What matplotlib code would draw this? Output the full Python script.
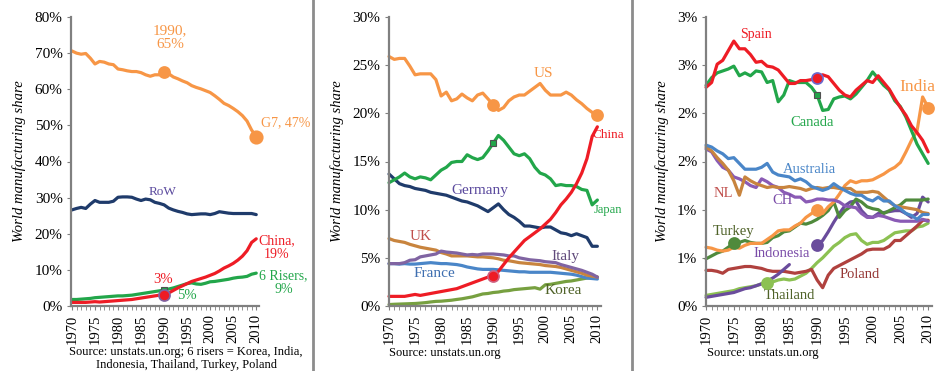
import numpy as np
import matplotlib
matplotlib.use("Agg")
import matplotlib.pyplot as plt
from matplotlib.lines import Line2D

plt.rcParams['font.family'] = ['Liberation Serif', 'DejaVu Serif']

years = np.arange(1970, 2011)
xtick_years = [1970, 1975, 1980, 1985, 1990, 1995, 2000, 2005, 2010]

# ---- panel 1: blocs (% of world manufacturing) ----
g7 = [70.6, 70.0, 69.7, 69.9, 68.6, 67.0, 67.7, 67.5, 67.0, 66.8,
      65.6, 65.4, 65.1, 64.9, 64.9, 64.6, 64.0, 63.6, 64.0, 64.0,
      64.7, 64.3, 63.4, 62.9, 62.3, 61.8, 61.0, 60.5, 60.1, 59.6,
      59.1, 58.2, 57.2, 56.1, 55.5, 54.7, 53.8, 52.7, 51.2, 48.7, 46.9]
row = [26.6, 27.0, 27.3, 27.0, 28.2, 29.2, 28.7, 28.7, 28.7, 29.0,
       30.1, 30.2, 30.2, 30.1, 29.6, 29.2, 29.6, 29.4, 28.7, 28.4,
       28.0, 27.1, 26.6, 26.2, 25.9, 25.5, 25.3, 25.4, 25.5, 25.5,
       25.3, 25.6, 26.1, 25.9, 25.7, 25.6, 25.6, 25.6, 25.6, 25.6, 25.3]
china = [1.0, 1.0, 1.0, 1.0, 1.1, 1.2, 1.1, 1.2, 1.3, 1.4,
         1.5, 1.6, 1.7, 1.8, 2.0, 2.2, 2.4, 2.6, 2.8, 3.0,
         3.1, 3.6, 4.3, 5.0, 5.6, 6.2, 6.8, 7.2, 7.6, 8.0,
         8.5, 9.0, 9.7, 10.5, 11.1, 11.8, 12.7, 13.8, 15.3, 17.6, 18.6]
risers = [1.8, 1.8, 1.9, 2.0, 2.1, 2.3, 2.4, 2.5, 2.6, 2.7,
          2.8, 2.8, 2.9, 3.0, 3.2, 3.4, 3.6, 3.8, 4.0, 4.2,
          4.4, 4.7, 5.0, 5.4, 5.8, 6.2, 6.4, 6.1, 6.0, 6.3,
          6.7, 6.8, 7.0, 7.2, 7.4, 7.7, 7.9, 8.0, 8.2, 8.8, 9.1]

# ---- panel 2: big countries ----
us = [25.9, 25.6, 25.7, 25.7, 24.9, 24.0, 24.1, 24.1, 24.1, 23.5,
      21.8, 22.2, 21.3, 21.5, 22.0, 21.6, 21.3, 21.9, 22.1, 21.5,
      20.9, 20.3, 20.6, 21.3, 21.7, 21.9, 21.9, 22.3, 22.7, 23.1,
      22.4, 21.9, 21.9, 21.9, 22.2, 21.9, 21.4, 21.0, 20.5, 20.1, 19.8]
japan = [12.8, 13.1, 13.4, 13.8, 13.4, 13.2, 13.4, 13.3, 13.1, 13.6,
         14.1, 14.4, 14.9, 15.0, 15.0, 15.7, 15.4, 15.2, 15.4, 16.1,
         16.9, 17.7, 17.2, 16.5, 15.8, 15.6, 15.8, 15.3, 14.4, 13.8,
         13.6, 13.2, 12.5, 12.6, 12.5, 12.5, 12.4, 12.1, 12.0, 10.5, 11.0]
germany = [13.7, 13.2, 12.7, 12.5, 12.4, 12.2, 12.1, 12.0, 11.8, 11.7,
           11.6, 11.5, 11.3, 11.1, 10.9, 10.8, 10.6, 10.4, 10.1, 9.8,
           10.2, 10.6, 10.0, 9.5, 9.2, 8.8, 8.3, 8.3, 8.2, 8.1,
           8.2, 8.2, 7.9, 7.6, 7.5, 7.3, 7.5, 7.3, 7.1, 6.2, 6.2]
uk = [7.0, 6.8, 6.7, 6.6, 6.4, 6.25, 6.1, 6.0, 5.9, 5.8,
      5.55, 5.4, 5.2, 5.2, 5.2, 5.2, 5.15, 5.1, 5.1, 5.05,
      5.0, 4.9, 4.75, 4.7, 4.6, 4.5, 4.45, 4.4, 4.35, 4.3,
      4.2, 4.15, 4.1, 4.0, 3.85, 3.7, 3.55, 3.4, 3.2, 3.1, 3.0]
italy = [4.4, 4.4, 4.4, 4.5, 4.75, 4.8, 5.1, 5.2, 5.3, 5.4,
         5.7, 5.6, 5.55, 5.5, 5.4, 5.3, 5.35, 5.3, 5.4, 5.4,
         5.4, 5.35, 5.3, 5.2, 5.2, 5.0, 4.9, 4.8, 4.75, 4.7,
         4.6, 4.55, 4.5, 4.3, 4.15, 4.0, 3.85, 3.7, 3.5, 3.3, 3.0]
france = [4.4, 4.4, 4.35, 4.4, 4.35, 4.35, 4.4, 4.45, 4.5, 4.45,
          4.4, 4.4, 4.35, 4.3, 4.2, 4.05, 3.95, 3.85, 3.8, 3.8,
          3.8, 3.75, 3.7, 3.65, 3.6, 3.55, 3.55, 3.5, 3.5, 3.5,
          3.5, 3.5, 3.45, 3.4, 3.35, 3.3, 3.2, 3.05, 2.9, 2.85, 2.8]
korea = [0.15, 0.18, 0.2, 0.22, 0.24, 0.26, 0.3, 0.35, 0.42, 0.48,
         0.5, 0.55, 0.6, 0.68, 0.75, 0.85, 0.95, 1.1, 1.25, 1.3,
         1.4, 1.45, 1.55, 1.6, 1.7, 1.75, 1.8, 1.85, 1.9, 1.75,
         2.2, 2.25, 2.35, 2.45, 2.55, 2.6, 2.7, 2.8, 2.9, 2.95, 3.0]

# ---- panel 3: smaller countries ----
spain = [2.27, 2.32, 2.51, 2.55, 2.65, 2.75, 2.67, 2.67, 2.61, 2.53,
         2.54, 2.49, 2.48, 2.45, 2.38, 2.31, 2.31, 2.34, 2.34, 2.35,
         2.37, 2.40, 2.38, 2.31, 2.24, 2.19, 2.17, 2.24, 2.29, 2.34,
         2.32, 2.39, 2.32, 2.25, 2.15, 2.06, 1.98, 1.87, 1.80, 1.72, 1.60]
canada = [2.29, 2.37, 2.42, 2.44, 2.46, 2.49, 2.39, 2.42, 2.39, 2.44,
          2.43, 2.32, 2.34, 2.12, 2.19, 2.34, 2.32, 2.32, 2.32, 2.27,
          2.19, 2.03, 2.04, 2.15, 2.17, 2.18, 2.15, 2.20, 2.27, 2.34,
          2.43, 2.36, 2.29, 2.24, 2.13, 2.07, 1.96, 1.82, 1.68, 1.58, 1.48]
australia = [1.67, 1.65, 1.61, 1.58, 1.53, 1.54, 1.48, 1.42, 1.42, 1.42,
             1.44, 1.48, 1.39, 1.36, 1.35, 1.34, 1.30, 1.32, 1.29, 1.24,
             1.22, 1.20, 1.22, 1.27, 1.23, 1.20, 1.17, 1.15, 1.15, 1.11,
             1.09, 1.13, 1.09, 1.09, 1.04, 1.01, 0.96, 0.94, 0.90, 0.95, 0.95]
nl = [1.65, 1.61, 1.54, 1.48, 1.41, 1.30, 1.15, 1.34, 1.30, 1.27,
      1.25, 1.23, 1.24, 1.23, 1.23, 1.24, 1.23, 1.22, 1.20, 1.22,
      1.23, 1.22, 1.23, 1.23, 1.22, 1.22, 1.22, 1.18, 1.18, 1.18,
      1.19, 1.18, 1.13, 1.08, 1.04, 1.03, 1.02, 1.01, 1.00, 0.97, 0.96]
ch = [1.63, 1.60, 1.51, 1.44, 1.41, 1.34, 1.32, 1.29, 1.25, 1.23,
      1.32, 1.29, 1.25, 1.23, 1.18, 1.16, 1.13, 1.13, 1.08, 1.09,
      1.11, 1.11, 1.10, 1.10, 1.08, 1.04, 1.03, 1.02, 0.96, 0.92,
      0.92, 0.94, 0.93, 0.91, 0.89, 0.88, 0.88, 0.88, 0.88, 0.90, 0.88]
india = [0.61, 0.60, 0.58, 0.57, 0.58, 0.61, 0.60, 0.63, 0.65, 0.65,
         0.65, 0.69, 0.73, 0.78, 0.79, 0.79, 0.83, 0.86, 0.92, 0.96,
         1.00, 0.96, 1.03, 1.08, 1.16, 1.25, 1.30, 1.28, 1.30, 1.30,
         1.31, 1.34, 1.37, 1.41, 1.44, 1.49, 1.60, 1.72, 1.82, 2.17, 2.06]
turkey = [0.49, 0.52, 0.55, 0.57, 0.61, 0.65, 0.66, 0.68, 0.66, 0.65,
          0.65, 0.66, 0.71, 0.73, 0.77, 0.78, 0.82, 0.86, 0.85, 0.87,
          0.90, 0.94, 0.99, 1.08, 0.92, 0.99, 1.03, 1.11, 1.08, 1.03,
          1.01, 1.00, 0.96, 0.99, 1.02, 1.05, 1.10, 1.10, 1.10, 1.10, 1.11]
indonesia = [0.09, 0.10, 0.11, 0.12, 0.13, 0.14, 0.16, 0.18, 0.19, 0.21,
             0.23, 0.26, 0.29, 0.33, 0.38, 0.43, np.nan, np.nan, np.nan, np.nan,
             0.63, 0.68, 0.77, 0.87, 0.96, 1.04, 1.08, 1.09, 0.99, 0.93,
             0.92, 0.96, 0.97, 0.98, 0.99, 0.99, 0.96, 0.92, 0.96, 1.13, 1.08]
poland = [0.37, 0.37, 0.36, 0.34, 0.38, 0.39, 0.40, 0.41, 0.41, 0.40,
          0.39, 0.37, 0.36, 0.36, 0.36, 0.35, 0.34, 0.35, 0.36, 0.38,
          0.27, 0.19, 0.32, 0.39, 0.42, 0.45, 0.48, 0.51, 0.54, 0.58,
          0.59, 0.59, 0.59, 0.62, 0.68, 0.68, 0.73, 0.78, 0.83, 0.89, 0.89]
thailand = [0.11, 0.12, 0.13, 0.14, 0.15, 0.16, 0.18, 0.19, 0.20, 0.21,
            0.23, 0.24, 0.25, 0.27, 0.28, 0.27, 0.28, 0.31, 0.34, 0.39,
            0.45, 0.50, 0.56, 0.62, 0.66, 0.71, 0.74, 0.75, 0.68, 0.64,
            0.66, 0.66, 0.68, 0.72, 0.76, 0.77, 0.78, 0.78, 0.82, 0.83, 0.86]

p3_ticks = [0, 0.5, 1.0, 1.5, 2.0, 2.5, 3.0]
p3_ticklabels = ['0%', '1%', '1%', '2%', '2%', '3%', '3%']

ORANGE = '#f79646'
NAVY = '#1f3b6b'
RED = '#ee1c25'
GREEN = '#22a64a'
PURPLE = '#8064a2'
BLUE = '#4a86c8'
BROWN = '#c8843e'
OLIVE = '#77a040'
DKGREEN = '#4f8a3c'
LTGREEN = '#8cc152'
SPINE = '#808080'

fig = plt.figure(figsize=(9.44, 3.71), dpi=100)
W, H = 944.0, 371.0


def make_ax(left_px, width_px, xlim, ylim):
    ax = fig.add_axes([left_px / W, (H - 306) / H, width_px / W, 289 / H])
    ax.set_xlim(*xlim)
    ax.set_ylim(*ylim)
    for s in ['top', 'right']:
        ax.spines[s].set_visible(False)
    for s in ['left', 'bottom']:
        ax.spines[s].set_color(SPINE)
        ax.spines[s].set_linewidth(1.6)
    ax.set_xticks(xtick_years)
    ax.set_xticks(years, minor=True)
    ax.set_xticklabels([str(y) for y in xtick_years], rotation=90, fontsize=10.5)
    ax.tick_params(axis='x', which='both', direction='out', length=3,
                   color=SPINE, pad=3)
    ax.tick_params(axis='y', direction='out', length=3, color=SPINE,
                   labelsize=11, pad=3)
    ax.set_ylabel('World manufacturing share', fontstyle='italic',
                  fontsize=10.5, labelpad=6)
    return ax


def line(ax, y, color):
    ax.plot(years, y, color=color, lw=2.3, solid_capstyle='round',
            solid_joinstyle='round', clip_on=False)


def dot(ax, x, y, color, edge=None, ms=8):
    ax.plot([x], [y], 'o', color=color, ms=ms,
            mec=edge if edge else color, mew=1.2, clip_on=False, zorder=5)


def square(ax, x, y, color=GREEN):
    ax.plot([x], [y], 's', color=color, ms=5, mec='#505050', mew=0.8,
            clip_on=False, zorder=5)


# ---------------- panel 1 ----------------
ax1 = make_ax(71, 188, (1969.8, 2010.6), (0, 80))
ax1.set_yticks(np.arange(0, 81, 10))
ax1.set_yticklabels(['%d%%' % v for v in range(0, 81, 10)])
line(ax1, g7, ORANGE)
line(ax1, row, NAVY)
line(ax1, risers, GREEN)
line(ax1, china, RED)
dot(ax1, 1990, g7[20], ORANGE)
dot(ax1, 2010, g7[40], ORANGE, ms=9)
square(ax1, 1990, risers[20])
dot(ax1, 1990, china[20], RED, PURPLE)
ax1.text(1991.3, 74.2, '1990,\n65%', color=ORANGE, fontsize=11, ha='center',
         va='center', linespacing=1.1)
ax1.text(2016.3, 50.7, 'G7, 47%', color=ORANGE, fontsize=10, ha='center',
         va='center', clip_on=False)
ax1.text(1989.6, 31.6, 'RoW', color='#5b4a9e', fontsize=9.5, ha='center',
         va='center')
ax1.text(2014.4, 16.2, 'China,\n19%', color=RED, fontsize=10, ha='center',
         va='center', linespacing=1.1, clip_on=False)
ax1.text(1989.8, 7.2, '3%', color=RED, fontsize=10.5, ha='center', va='center')
ax1.text(1995.0, 3.0, '5%', color=GREEN, fontsize=10.5, ha='center',
         va='center')
ax1.text(2015.9, 6.5, '6 Risers,\n9%', color=GREEN, fontsize=10, ha='center',
         va='center', linespacing=1.1, clip_on=False)
fig.text(186 / W, 1 - 352 / H,
         'Source: unstats.un.org; 6 risers = Korea, India,',
         ha='center', va='center', fontsize=9)
fig.text(186 / W, 1 - 365 / H, 'Indonesia, Thailand, Turkey, Poland',
         ha='center', va='center', fontsize=9)

# ---------------- panel 2 ----------------
ax2 = make_ax(388.5, 212, (1969.9, 2010.6), (0, 30))
ax2.set_yticks(np.arange(0, 31, 5))
ax2.set_yticklabels(['%d%%' % v for v in range(0, 31, 5)])
line(ax2, korea, OLIVE)
line(ax2, france, BLUE)
line(ax2, uk, BROWN)
line(ax2, italy, PURPLE)
line(ax2, germany, NAVY)
line(ax2, japan, GREEN)
line(ax2, us, ORANGE)
line(ax2, china, RED)
dot(ax2, 1990, us[20], ORANGE)
dot(ax2, 2010, us[40], ORANGE)
square(ax2, 1990, japan[20])
dot(ax2, 1990, china[20], RED, '#d06080')
ax2.text(1999.6, 24.1, 'US', color=ORANGE, fontsize=11, ha='center',
         va='center')
ax2.text(2009.0, 17.7, 'China', color=RED, fontsize=9.5, ha='left',
         va='center', clip_on=False)
ax2.text(2009.4, 10.0, 'Japan', color=GREEN, fontsize=9, ha='left',
         va='center', clip_on=False)
ax2.text(1987.5, 12.0, 'Germany', color='#5b4a9e', fontsize=11, ha='center',
         va='center')
ax2.text(1976.0, 7.2, 'UK', color='#c0504d', fontsize=11, ha='center',
         va='center')
ax2.text(2003.8, 5.1, 'Italy', color='#604a7b', fontsize=11, ha='center',
         va='center')
ax2.text(1978.8, 3.4, 'France', color='#3f6fb0', fontsize=11, ha='center',
         va='center')
ax2.text(2003.5, 1.6, 'Korea', color='#4f6228', fontsize=11, ha='center',
         va='center')
fig.text(389 / W, 1 - 353 / H, 'Source: unstats.un.org', ha='left',
         va='center', fontsize=9)

# ---------------- panel 3 ----------------
ax3 = make_ax(705.5, 226, (1969.9, 2010.6), (0, 3))
ax3.set_yticks(p3_ticks)
ax3.set_yticklabels(p3_ticklabels)
line(ax3, thailand, LTGREEN)
line(ax3, poland, '#b0413e')
line(ax3, indonesia, '#6a4c9c')
line(ax3, turkey, DKGREEN)
line(ax3, india, ORANGE)
line(ax3, ch, '#8a5bb5')
line(ax3, nl, BROWN)
line(ax3, australia, BLUE)
line(ax3, canada, GREEN)
line(ax3, spain, RED)
dot(ax3, 1990, spain[20], RED, '#6a6ad0')
square(ax3, 1990, canada[20])
dot(ax3, 1990, india[20], ORANGE)
dot(ax3, 2010, india[40], ORANGE)
dot(ax3, 1975, turkey[5], DKGREEN)
dot(ax3, 1990, indonesia[20], '#6a4c9c')
dot(ax3, 1981, thailand[11], LTGREEN)
ax3.text(1979.0, 2.82, 'Spain', color=RED, fontsize=10, ha='center',
         va='center')
ax3.text(1989.1, 1.91, 'Canada', color=GREEN, fontsize=10.5, ha='center',
         va='center')
ax3.text(2008.0, 2.27, 'India', color=ORANGE, fontsize=12.5, ha='center',
         va='center', clip_on=False)
ax3.text(1988.7, 1.42, 'Australia', color=BLUE, fontsize=10.5, ha='center',
         va='center')
ax3.text(1973.1, 1.17, 'NL', color='#c0504d', fontsize=10.5, ha='center',
         va='center')
ax3.text(1983.7, 1.09, 'CH', color='#7a4ca8', fontsize=10.5, ha='center',
         va='center')
ax3.text(1974.9, 0.77, 'Turkey', color='#4f6228', fontsize=10.5, ha='center',
         va='center')
ax3.text(1983.7, 0.54, 'Indonesia', color='#7a4ca8', fontsize=10.5,
         ha='center', va='center')
ax3.text(1997.7, 0.33, 'Poland', color='#953735', fontsize=10.5, ha='center',
         va='center')
ax3.text(1985.1, 0.11, 'Thailand', color='#4f6228', fontsize=10.5,
         ha='center', va='center')
fig.text(707 / W, 1 - 353 / H, 'Source: unstats.un.org', ha='left',
         va='center', fontsize=9)

# panel separators
for xp in (313, 632):
    fig.add_artist(Line2D([xp / W, xp / W], [0, 1], color='#8c8c8c', lw=2))

fig.savefig('out.png', dpi=100)
